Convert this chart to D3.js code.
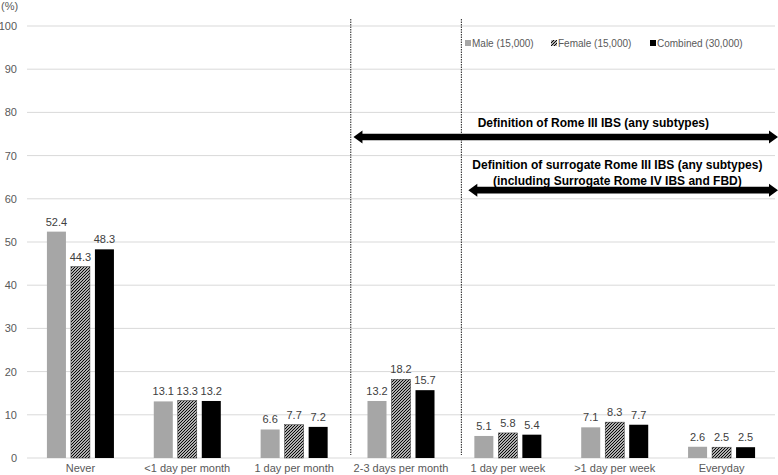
<!DOCTYPE html>
<html><head><meta charset="utf-8">
<script src="https://cdn.jsdelivr.net/npm/d3@7"></script>
<style>
body{margin:0;background:#fff;}
text{font-family:"Liberation Sans",Arial,sans-serif;}
</style></head>
<body><svg id="c" width="778" height="475"></svg>
<script>
const categories = ["Never","<1 day per month","1 day per month","2-3 days per month","1 day per week",">1 day per week","Everyday"];
const seriesNames = ["Male (15,000)","Female (15,000)","Combined (30,000)"];
const male = [52.4,13.1,6.6,13.2,5.1,7.1,2.6];
const female = [44.3,13.3,7.7,18.2,5.8,8.3,2.5];
const combined = [48.3,13.2,7.2,15.7,5.4,7.7,2.5];
const yTicks = [0,10,20,30,40,50,60,70,80,90,100];
// annotations (x in category-index units, y in % units)
const dividers = [3.03, 4.065];
const arrows = [
  {x0:3.055, y:74.3, lines:["Definition of Rome III IBS (any subtypes)"], tx:5.3, ty:[76.6]},
  {x0:4.13, y:62.0, lines:["Definition of surrogate Rome III IBS (any subtypes)","(including Surrogate Rome IV IBS and FBD)"], tx:5.525, ty:[66.8,63.2]}
];

const svg = d3.select("#c");
const L=27, R=775, T=26, B=458;
const x = d3.scaleBand().domain(categories).range([L,R]).paddingInner(0).paddingOuter(0);
const xi = d3.scaleLinear().domain([0,categories.length]).range([L,R]);
const x1 = d3.scaleBand().domain(seriesNames).range([0,x.bandwidth()]).paddingInner(0.208).paddingOuter(0.83);
const y = d3.scaleLinear().domain([0,100]).range([B,T]);

const defs = svg.append("defs");
const pat = defs.append("pattern").attr("id","hatch").attr("patternUnits","userSpaceOnUse").attr("width",3).attr("height",3);
pat.append("rect").attr("width",3).attr("height",3).attr("fill","#fff");
pat.append("path").attr("d","M-1,1 l2,-2 M0,3 l3,-3 M2,4 l2,-2").attr("stroke","#000").attr("stroke-width",1.2);

// gridlines
svg.append("g").selectAll("line").data(yTicks).join("line")
  .attr("x1",L).attr("x2",R).attr("y1",d=>y(d)).attr("y2",d=>y(d))
  .attr("stroke","#d9d9d9").attr("stroke-width",1);
// y tick labels
svg.append("g").selectAll("text").data(yTicks).join("text")
  .attr("x",17).attr("y",d=>y(d)+4).attr("text-anchor","end")
  .attr("font-size",11).attr("fill","#595959").text(d=>d);
svg.append("text").attr("x",1).attr("y",10).attr("font-size",11).attr("fill","#595959").text("(%)");

// x labels
svg.append("g").selectAll("text").data(categories).join("text")
  .attr("x",d=>x(d)+x.bandwidth()/2).attr("y",472).attr("text-anchor","middle")
  .attr("font-size",11).attr("fill","#595959").text(d=>d);

const series = [
  {name:seriesNames[0], values:male, fill:"#a6a6a6", stroke:"none"},
  {name:seriesNames[1], values:female, fill:"url(#hatch)", stroke:"#333"},
  {name:seriesNames[2], values:combined, fill:"#000", stroke:"none"}
];
series.forEach(s=>{
  const g = svg.append("g");
  g.selectAll("rect").data(s.values).join("rect")
    .attr("x",(d,i)=>x(categories[i])+x1(s.name)).attr("width",x1.bandwidth())
    .attr("y",d=>y(d)).attr("height",d=>B-y(d))
    .attr("fill",s.fill).attr("stroke",s.stroke).attr("stroke-width",0.5);
  g.selectAll("text").data(s.values).join("text")
    .attr("x",(d,i)=>x(categories[i])+x1(s.name)+x1.bandwidth()/2)
    .attr("y",d=>y(d)-6).attr("text-anchor","middle")
    .attr("font-size",11).attr("fill","#404040").text(d=>d.toFixed(1));
});

// dividers
svg.append("g").selectAll("line").data(dividers).join("line")
  .attr("x1",d=>xi(d)).attr("x2",d=>xi(d)).attr("y1",19).attr("y2",455)
  .attr("stroke","#222").attr("stroke-width",1).attr("stroke-dasharray","1.5,1");

// arrows
const W = 778;
arrows.forEach(a=>{
  const xa = xi(a.x0), yc = y(a.y), h=3.3, H=6.5, hl=9;
  const p = `M${xa},${yc} L${xa+hl},${yc-H} L${xa+hl},${yc-h} L${W-hl},${yc-h} L${W-hl},${yc-H} L${W},${yc} L${W-hl},${yc+H} L${W-hl},${yc+h} L${xa+hl},${yc+h} L${xa+hl},${yc+H} Z`;
  svg.append("path").attr("d",p).attr("fill","#000");
  a.lines.forEach((t,k)=>{
    svg.append("text").attr("x",xi(a.tx)).attr("y",y(a.ty[k]))
      .attr("text-anchor","middle").attr("font-size",12).attr("font-weight","bold").attr("fill","#000").text(t);
  });
});

// legend
const legX = [465,551,650];
const lg = svg.append("g");
series.forEach((s,i)=>{
  lg.append("rect").attr("x",legX[i]).attr("y",40).attr("width",6).attr("height",6)
    .attr("fill",s.fill);
  lg.append("text").attr("x",legX[i]+7).attr("y",47).attr("font-size",10).attr("fill","#595959").text(s.name);
});
</script></body></html>
